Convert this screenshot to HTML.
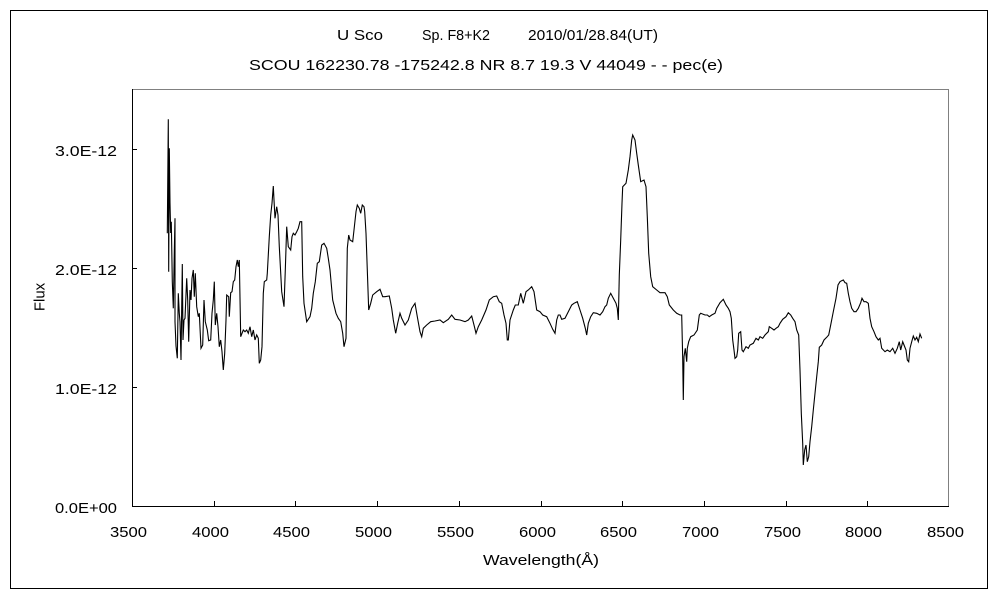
<!DOCTYPE html>
<html>
<head>
<meta charset="utf-8">
<style>
html,body{margin:0;padding:0;background:#fff;}
svg{display:block;}
text{font-family:"Liberation Sans","Noto Sans CJK JP",sans-serif;font-size:15px;fill:#000;}
</style>
</head>
<body>
<svg width="1000" height="600" viewBox="0 0 1000 600" xmlns="http://www.w3.org/2000/svg">
<rect x="0" y="0" width="1000" height="600" fill="#fff"/>
<rect x="10.5" y="10.5" width="977" height="578" fill="none" stroke="#000" stroke-width="1"/>

<!-- title -->
<text x="337" y="40" textLength="46" lengthAdjust="spacingAndGlyphs">U Sco</text>
<text x="422" y="40" textLength="68" lengthAdjust="spacingAndGlyphs">Sp. F8+K2</text>
<text x="528" y="40" textLength="130" lengthAdjust="spacingAndGlyphs">2010/01/28.84(UT)</text>
<text x="249" y="70" textLength="474" lengthAdjust="spacingAndGlyphs">SCOU 162230.78 -175242.8 NR 8.7 19.3 V 44049 - - pec(e)</text>

<!-- plot frame -->
<line x1="132" y1="89.5" x2="949" y2="89.5" stroke="#808080" stroke-width="1"/>
<line x1="948.5" y1="89" x2="948.5" y2="507" stroke="#808080" stroke-width="1"/>
<line x1="132.5" y1="89" x2="132.5" y2="507" stroke="#000" stroke-width="1"/>
<line x1="132" y1="506.5" x2="949" y2="506.5" stroke="#000" stroke-width="1"/>

<!-- y ticks -->
<g stroke="#000" stroke-width="1">
<line x1="132" y1="149.5" x2="137" y2="149.5"/>
<line x1="132" y1="268.5" x2="137" y2="268.5"/>
<line x1="132" y1="387.5" x2="137" y2="387.5"/>
</g>
<!-- x ticks -->
<g stroke="#000" stroke-width="1">
<line x1="214.5" y1="507" x2="214.5" y2="501"/>
<line x1="295.5" y1="507" x2="295.5" y2="501"/>
<line x1="377.5" y1="507" x2="377.5" y2="501"/>
<line x1="459.5" y1="507" x2="459.5" y2="501"/>
<line x1="541.5" y1="507" x2="541.5" y2="501"/>
<line x1="622.5" y1="507" x2="622.5" y2="501"/>
<line x1="704.5" y1="507" x2="704.5" y2="501"/>
<line x1="786.5" y1="507" x2="786.5" y2="501"/>
<line x1="867.5" y1="507" x2="867.5" y2="501"/>
</g>

<!-- y labels -->
<text x="55" y="156" textLength="62" lengthAdjust="spacingAndGlyphs">3.0E-12</text>
<text x="55" y="275" textLength="62" lengthAdjust="spacingAndGlyphs">2.0E-12</text>
<text x="55" y="394" textLength="62" lengthAdjust="spacingAndGlyphs">1.0E-12</text>
<text x="55" y="513" textLength="62" lengthAdjust="spacingAndGlyphs">0.0E+00</text>

<!-- x labels -->
<g>
<text x="110" y="537" textLength="37" lengthAdjust="spacingAndGlyphs">3500</text>
<text x="192" y="537" textLength="37" lengthAdjust="spacingAndGlyphs">4000</text>
<text x="273" y="537" textLength="37" lengthAdjust="spacingAndGlyphs">4500</text>
<text x="355" y="537" textLength="37" lengthAdjust="spacingAndGlyphs">5000</text>
<text x="437" y="537" textLength="37" lengthAdjust="spacingAndGlyphs">5500</text>
<text x="519" y="537" textLength="37" lengthAdjust="spacingAndGlyphs">6000</text>
<text x="600" y="537" textLength="37" lengthAdjust="spacingAndGlyphs">6500</text>
<text x="682" y="537" textLength="37" lengthAdjust="spacingAndGlyphs">7000</text>
<text x="764" y="537" textLength="37" lengthAdjust="spacingAndGlyphs">7500</text>
<text x="845" y="537" textLength="37" lengthAdjust="spacingAndGlyphs">8000</text>
<text x="927" y="537" textLength="37" lengthAdjust="spacingAndGlyphs">8500</text>
</g>

<!-- axis titles -->
<text x="483" y="565" textLength="116" lengthAdjust="spacingAndGlyphs">Wavelength(Å)</text>
<g transform="translate(44.5,297) rotate(-90)">
<text x="0" y="0" text-anchor="middle">Flux</text>
</g>

<!-- spectrum -->
<polyline fill="none" stroke="#000" stroke-width="1.1" stroke-linejoin="miter" points="
167.3,233.3 168.3,119.3 168.7,271.7 169.3,148.3 170,203 170.7,233 171.3,221.7 172.3,281.7 173.3,308.3 174.3,251.7 175,218.3 175,321.7 176,346 177.3,358.3 178.3,293.3 179.3,313.3 180,321.7 181,360 182.3,264 183,340 184,320 185,318.3 186.7,278.3 187.7,300 188.7,341.7 190,290 191,300 192,278.3 193.3,270 194.3,296.7 195.3,273.3 196.7,306.7 198.3,316.7 199.3,313.3 201,348.3 202.7,345 204,300 205.3,321.7 207.3,330 208.7,340.7 210.7,340 212,313.3 213.3,300 214.3,281.7 215.3,325 216.7,313.3 218,326.7 219.3,346.7 220.7,340 222,351.7 223.3,370 224.7,353.3 226,320 226.7,295 228.7,296.7 229.3,316.7 230.7,292.7 232,291.7 233.3,281.7 234.7,280 236,266.7 237.3,260 238.3,266.7 239.3,260 240.7,336.7 243.3,330 245,331.7 246.7,330 248.3,333.3 250,326.7 251.7,336.7 253.3,330 255,340 256.7,335 258.3,338.3 259.3,363.3 260.7,360 262,346.7 263.3,293.3 264.3,281.7 266.7,280 267.3,273.3 269.3,236.7 270.7,215 272,203.3 273.3,186 274,200 275,218.3 276.7,206.7 278,215 279.3,246.7 281.7,291.7 284,306.7 285.3,270 286.7,226.7 288.3,246.7 290.7,250 292,236.7 293.3,233.3 295,235 296.7,231.7 298.3,228.3 300,221.7 301.7,221.7 302.7,276.7 304,303.3 306.7,321.7 310,316.7 311.7,308.3 313.3,293.3 315.3,281.7 317.3,263.3 319.3,261.7 321.7,245 324,243.3 326.7,248.3 328.3,258.3 330,270 332.7,300 336,313.3 338.3,318.3 340.7,321.7 342.7,333.3 344,346.7 346,338.3 347.3,248.3 348.7,235 350,240 352.7,241.7 354,230 356,211.7 357.3,205 359.3,208.3 360.7,213.3 362.3,205 364,206.7 364.7,211.7 366,233.3 367.3,270 368.7,310 370.7,303.3 372.7,295 376.7,291.7 380,289.3 382.7,296.7 385,296.7 389.3,296 391.7,308.3 393.3,320 395.7,333.3 397.7,323.3 400,313.3 401.7,318.3 405,325 408.3,320
411.7,308.3 415,303.3 417.3,316.7 420,331.7 421.7,336.7 423.3,328.3 426.7,325 430.7,321.7 435,321 440,320 443.3,322.7 448.3,319.3 451.7,315 455,319.3 460,320 465,321.7 468.3,320 471.7,316 474,325 476,333.3 478.3,326.7 481.7,320 486,310 489.3,300 493.3,296.7 496.7,296 499.3,301.7 501.7,303.3 504,315 506,323.3 507.3,340 508.3,340 510,320 513.3,310 515.3,305 518.3,305 520.7,293.3 523.3,303.3 526,291.7 528.3,290 531.7,286.7 534,291.7 536.7,310 540,311.7 542.7,315 546.7,316.7 550,323.3 552.7,329.3 555,333.3 556.7,320 558.3,315 560,315 561.7,319.3 565,318.3 568.3,311.7 571.7,305 574,303.3 577.3,301.7 580,310 582.7,318.3 585.3,328.3 586.7,335 588.3,323.3 590.7,316.7 593.3,312.7 596.7,313.3 600,315 602.7,311.7 605,306.7 606.7,305 608.3,298.3 610.7,293.3 613.3,298.3 616,303.3 617.3,308.3 618.3,320 619.3,275 620.7,240 622,203.3 622.7,186.7 626,183.3 628.3,170 630,156.7 631.7,140 632.7,135 635,140 636.7,153.3 638.3,165 640.7,181.7 644,180 646,186.7 647.3,216.7 648.7,253.3 650.7,276.7 652.7,286.7 656.7,290 660,292.7 665,292.7 667.3,296.7 669.3,305 673.3,310 676.7,313.3 680,315
681.7,315 682.7,358.3 683.3,400 684,356.7 685.3,348.3 686.7,361.7 687.3,348.3 688.7,341.7 690.7,336.7 694,335 697.3,330 699.3,315 700.7,313.3 705,315 707.3,315 709.3,316.7 711.7,315 715,313.3 716.7,308.3 720,302.7 723.3,299.3 726,305 728.3,308.3 730,311.7 731.3,318.3 732.7,340 734,350 735,358.3 736.7,356.7 737.7,350 738.7,333.3 740.7,331.7 742,350 743.3,351.7 746,346.7 748.3,348.3 750,345 753.3,343.3 756,338.3 758.3,340 760,336.7 762.7,338.3 765,335 768.3,331.7 769.3,326.7 771.7,328.3 774,330 776,328.3 778.3,326.7 780,323.3 782.7,319.3 786,316.7 788.3,312.7 790.7,315 792.7,318.3 795,321.7 796.7,330 798.7,335 800,370 801.3,413.3 802.7,443.3 803.3,465 804.7,450 806,445 807.3,461.7 808.7,456.7 810,441.7 811.7,426.7 813.3,410 815,393.3 816.7,376.7 818.3,361.7 819.3,347.3
821.7,345 824,340 826.7,337.3 828.7,335 830.7,325 833.3,311.7 836,298.3 838,285 840,281.7 841.7,280.7 843.3,280 845,282.7 846.7,283.3 848.3,293.3 850,301.7 851.7,308.3 854,311.7 856,311.7 858.3,308.3 860.7,302.7 862,298.3 864,301.7 866,301.7 868.3,303.3 870,318.3 871.7,326.7 874,331.7 876,336.7 878.3,340 880,338.3 881.7,348.3 885,351.7 887.3,350 890,351.7 892.7,348.3 895,353.3 897.3,348.3 899.3,341.7 900.7,350 902.7,341.7 904,345 906,350 907.3,360 908.7,361.7 910,348.3 911.7,341.7 913.3,336 915,340 916.7,337.3 918.3,341.7 920,334 921.7,338.3"/>
</svg>
</body>
</html>
